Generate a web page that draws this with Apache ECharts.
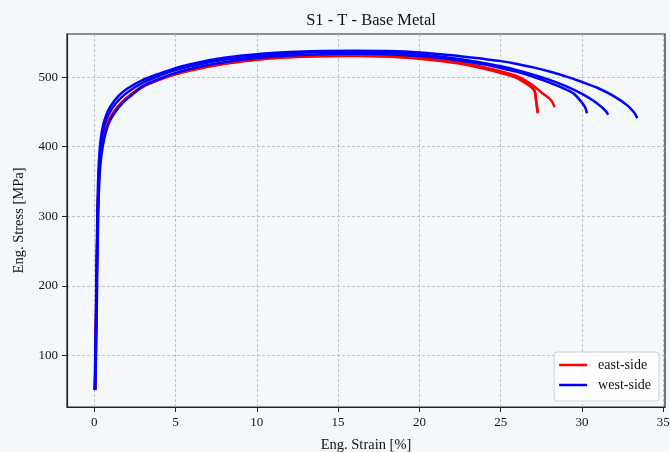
<!DOCTYPE html>
<html>
<head>
<meta charset="utf-8">
<script src="https://cdn.jsdelivr.net/npm/echarts@6/dist/echarts.min.js"></script>
<style>
html,body{margin:0;padding:0;background:#f5f8fa;}
#chart{width:670px;height:452px;}
</style>
</head>
<body>
<div id="chart"></div>
<script>
// Tick labels
const xTicks = [0, 5, 10, 15, 20, 25, 30, 35];
const yTicks = [100, 200, 300, 400, 500];

// east-side curves [strain %, stress MPa]
const east1 = [[0.05,50],[0.1,125],[0.15,205],[0.2,285],[0.26,340],[0.34,376],[0.47,402],[0.65,422],[0.9,438],[1.2,450],[1.7,464],[2.2,474],[3,487],[4,497],[5,505],[6,511],[7,516],[8,520],[10,526],[12,529.5],[14,531],[16,531.5],[18,530.5],[20,527.5],[22,522],[23,518],[24,513],[25,507],[26,499.5],[26.6,491.5],[26.95,485],[27.08,481],[27.15,470],[27.22,458],[27.27,448]];
const east2 = [[0.06,50],[0.11,125],[0.16,205],[0.21,285],[0.27,340],[0.35,376],[0.49,402],[0.68,422],[0.93,438],[1.25,450],[1.75,464],[2.25,474],[3,486.5],[4,496.5],[5,504.5],[6,510.5],[7,515.5],[8,519.5],[10,525.5],[12,529],[14,530.5],[16,531],[18,530],[20,527],[22,522],[23,518.5],[24,514],[25,508.5],[26,501.5],[26.6,494],[27.05,487],[27.5,478],[28.0,469],[28.2,463],[28.3,457]];
const east3 = [[0.05,50],[0.1,122],[0.15,202],[0.2,282],[0.25,336],[0.33,374],[0.46,401],[0.63,421],[0.88,437],[1.2,449.5],[1.7,463.5],[2.2,473.5],[3,486],[4,496],[5,504],[6,510],[7,515],[8,519],[10,525],[12,528.5],[14,530],[16,530.5],[18,529.5],[20,526.5],[22,521],[23,517],[24,512],[25,506],[26,498.5],[26.6,490],[26.95,484],[27.1,479],[27.17,468],[27.23,457],[27.28,450]];

// west-side curves [strain %, stress MPa]
const west1 = [[0.03,50],[0.08,120],[0.13,200],[0.18,280],[0.23,340],[0.3,382],[0.4,410],[0.55,431],[0.75,446],[1.0,458],[1.5,473],[2,483],[3,496],[4,505],[5,513],[6,519],[7,524],[8,528],[10,533],[12,536],[14,537.5],[16,538],[18,537.5],[20,535.5],[22,531.5],[24,526],[25,523],[26,519],[27,514],[28,508],[29,501],[30,493],[31,484],[32,472],[32.8,459],[33.2,449],[33.4,441]];
const west2 = [[0.05,50],[0.1,120],[0.15,200],[0.2,280],[0.26,340],[0.33,380],[0.45,408],[0.6,428],[0.8,442],[1.1,455],[1.6,469],[2.1,479],[3,492],[4,502],[5,510],[6,516],[7,521],[8,525],[10,530.5],[12,534],[14,536],[16,536.5],[18,535.5],[20,533],[22,527.5],[23,524],[24,520],[25,515.5],[26,510],[27,503.5],[28,496],[29,487],[30,476],[30.7,466],[31.2,457],[31.5,450],[31.6,446]];
const west3 = [[0.07,50],[0.13,120],[0.18,200],[0.23,280],[0.3,340],[0.39,376],[0.54,402],[0.73,422],[0.96,437],[1.3,450],[1.8,464],[2.3,474],[3,487],[4,497.5],[5,506],[6,512.5],[7,517.5],[8,521.5],[10,527.5],[12,531],[14,533],[16,533.5],[18,533],[20,530.5],[22,525.5],[23,522],[24,518],[25,513],[26,507.5],[27,500.5],[28,492],[29,482.5],[29.5,476],[29.97,464],[30.2,456],[30.3,448]];

const eastCurves = [east1, east2, east3];
const westCurves = [west1, west2, west3];

const FONT = 'Liberation Serif';
const series = [];
eastCurves.forEach(d => series.push({
  name: 'east-side', type: 'line', data: d, showSymbol: false, symbol: 'none',
  smooth: 0.35, lineStyle: {color: '#ff0000', width: 2.5}, itemStyle: {color: '#ff0000'}
}));
westCurves.forEach(d => series.push({
  name: 'west-side', type: 'line', data: d, showSymbol: false, symbol: 'none',
  smooth: 0.35, lineStyle: {color: '#0000ff', width: 2.5}, itemStyle: {color: '#0000ff'}
}));

const chart = echarts.init(document.getElementById('chart'), null, {renderer: 'canvas'});
chart.setOption({
  backgroundColor: '#f5f8fa',
  animation: false,
  title: {
    text: 'S1 - T - Base Metal', left: 366, textAlign: 'center', top: 7,
    textStyle: {fontFamily: FONT, fontSize: 16.5, fontWeight: 'normal', color: '#111'}
  },
  legend: {
    data: ['east-side', 'west-side'], orient: 'vertical', right: 11, bottom: 51,
    icon: 'rect', itemWidth: 28, itemHeight: 2.5, itemGap: 6,
    backgroundColor: 'rgba(255,255,255,0.8)', borderColor: '#d0d0d0', borderWidth: 1, borderRadius: 3,
    padding: [6, 8, 9, 5],
    textStyle: {fontFamily: FONT, fontSize: 14, color: '#111', padding: [0, 0, 0, 6]}
  },
  grid: {left: 67, right: 5, top: 34, bottom: 45, outerBoundsMode: 'none', containLabel: false,
    show: true, borderColor: '#222', borderWidth: 1.2, backgroundColor: 'transparent'},
  xAxis: {
    type: 'value', min: -1.67, max: 35.1, splitNumber: 7,
    name: 'Eng. Strain [%]', nameLocation: 'middle', nameGap: 31,
    nameTextStyle: {fontFamily: FONT, fontSize: 14.5, color: '#111'},
    axisLine: {show: true, onZero: false, lineStyle: {color: '#222', width: 1.2}},
    axisTick: {show: true, length: 5, customValues: xTicks, lineStyle: {color: '#222'}},
    axisLabel: {customValues: xTicks, margin: 9, fontFamily: FONT, fontSize: 13, color: '#111'},
    splitLine: {show: true, lineStyle: {color: '#b4b4b4', type: [3, 2], width: 0.8}}
  },
  yAxis: {
    type: 'value', min: 25.7, max: 562,
    name: 'Eng. Stress [MPa]', nameLocation: 'middle', nameGap: 40,
    nameTextStyle: {fontFamily: FONT, fontSize: 14.5, color: '#111'},
    axisLine: {show: true, onZero: false, lineStyle: {color: '#222', width: 1.2}},
    axisTick: {show: true, length: 5, customValues: yTicks, lineStyle: {color: '#222'}},
    axisLabel: {customValues: yTicks, margin: 9, fontFamily: FONT, fontSize: 13, color: '#111'},
    splitLine: {show: true, lineStyle: {color: '#b4b4b4', type: [3, 2], width: 0.8}}
  },
  series: series
});
</script>
</body>
</html>
